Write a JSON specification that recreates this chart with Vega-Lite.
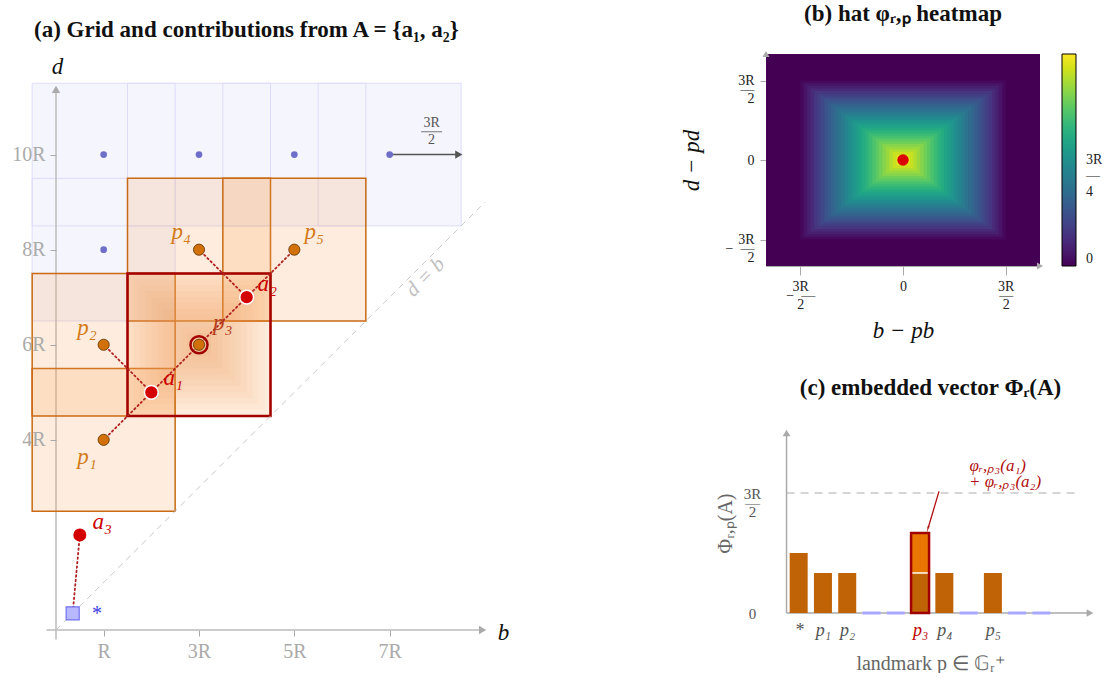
{
  "$schema": "https://vega.github.io/schema/vega-lite/v6.json",
  "padding": {"left": 11, "top": 2, "right": 0, "bottom": 0},
  "background": "white",
  "config": {
    "view": {"stroke": null},
    "font": "Liberation Serif",
    "axis": {"grid": false, "labelFont": "Liberation Serif", "titleFont": "Liberation Serif", "titleFontWeight": "normal", "domainColor": "#aaa", "tickColor": "#aaa"},
    "title": {"font": "Liberation Serif", "fontWeight": "bold", "fontSize": 23, "color": "#111"},
    "legend": {"labelFont": "Liberation Serif"}
  },
  "spacing": 171,
  "hconcat": [
    {
      "width": 429,
      "height": 576,
      "title": {"text": "(a)  Grid and contributions from A = {a₁, a₂}", "anchor": "start", "frame": "group", "dx": -22, "offset": 12},
      "layer": [
        {
          "data": {"values": [
            {"b": -0.5, "b2": 8.5, "d": 8.5, "d2": 11.5},
            {"b": -0.5, "b2": 2.5, "d": 6.5, "d2": 8.5}
          ]},
          "mark": {"type": "rect", "fill": "#f5f5fd", "strokeWidth": 0},
          "encoding": {
            "x": {"field": "b", "type": "quantitative", "scale": {"domain": [0, 9], "nice": false, "zero": false},
              "axis": {"values": [1, 3, 5, 7], "labelExpr": "datum.value == 1 ? 'R' : datum.value + 'R'", "labelFontSize": 20, "labelColor": "#aaa", "tickSize": 6, "labelPadding": 5, "domain": false,
                "title": "b", "titleFontSize": 23, "titleFontStyle": "italic", "titleColor": "#111", "titleAngle": 0, "titleX": 447, "titleY": 2, "titleAlign": "center", "titleBaseline": "middle"}},
            "x2": {"field": "b2"},
            "y": {"field": "d", "type": "quantitative", "scale": {"domain": [0, 12.116], "nice": false, "zero": false},
              "axis": {"values": [4, 6, 8, 10], "labelExpr": "datum.value + 'R'", "labelFontSize": 20, "labelColor": "#aaa", "tickSize": 6, "labelPadding": 5, "domain": false, "zindex": 1,
                "title": "d", "titleFontSize": 23, "titleFontStyle": "italic", "titleColor": "#111", "titleAngle": 0, "titleX": 1, "titleY": 12, "titleAlign": "center", "titleBaseline": "middle"}},
            "y2": {"field": "d2"}
          }
        },
        {
          "data": {"values": [
            {"b": -0.5, "b2": 2.5, "d": 8.5, "d2": 11.5},
            {"b": 1.5, "b2": 4.5, "d": 8.5, "d2": 11.5},
            {"b": 3.5, "b2": 6.5, "d": 8.5, "d2": 11.5},
            {"b": 5.5, "b2": 8.5, "d": 8.5, "d2": 11.5},
            {"b": -0.5, "b2": 2.5, "d": 6.5, "d2": 9.5}
          ]},
          "mark": {"type": "rect", "fillOpacity": 0, "stroke": "#dcdcfa", "strokeWidth": 1},
          "encoding": {"x": {"field": "b", "type": "quantitative"}, "x2": {"field": "b2"}, "y": {"field": "d", "type": "quantitative"}, "y2": {"field": "d2"}}
        },
        {
          "data": {"values": [{"b": -0.2, "d": 0, "b2": 8.9, "d2": 0}, {"b": 0, "d": -0.2, "b2": 0, "d2": 11.3}]},
          "mark": {"type": "rule", "stroke": "#bbb", "strokeWidth": 1.5},
          "encoding": {"x": {"field": "b", "type": "quantitative"}, "x2": {"field": "b2"}, "y": {"field": "d", "type": "quantitative"}, "y2": {"field": "d2"}}
        },
        {
          "data": {"values": [
            {"b": -0.5, "b2": 2.5, "d": 2.5, "d2": 5.5},
            {"b": -0.5, "b2": 2.5, "d": 4.5, "d2": 7.5},
            {"b": 1.5, "b2": 4.5, "d": 6.5, "d2": 9.5},
            {"b": 3.5, "b2": 6.5, "d": 6.5, "d2": 9.5},
            {"b": 1.5, "b2": 4.5, "d": 4.5, "d2": 7.5}
          ]},
          "mark": {"type": "rect", "fill": "#f8a65a", "fillOpacity": 0.2, "stroke": "#c96a14", "strokeWidth": 1.5},
          "encoding": {"x": {"field": "b", "type": "quantitative"}, "x2": {"field": "b2"}, "y": {"field": "d", "type": "quantitative"}, "y2": {"field": "d2"}}
        },
        {
          "data": {"values": [
            {"b": 1.625, "b2": 4.375, "d": 4.625, "d2": 7.375},
            {"b": 1.75, "b2": 4.25, "d": 4.75, "d2": 7.25},
            {"b": 1.875, "b2": 4.125, "d": 4.875, "d2": 7.125},
            {"b": 2.0, "b2": 4.0, "d": 5.0, "d2": 7.0},
            {"b": 2.125, "b2": 3.875, "d": 5.125, "d2": 6.875},
            {"b": 2.25, "b2": 3.75, "d": 5.25, "d2": 6.75},
            {"b": 2.375, "b2": 3.625, "d": 5.375, "d2": 6.625},
            {"b": 2.5, "b2": 3.5, "d": 5.5, "d2": 6.5},
            {"b": 2.625, "b2": 3.375, "d": 5.625, "d2": 6.375},
            {"b": 2.75, "b2": 3.25, "d": 5.75, "d2": 6.25}
          ]},
          "mark": {"type": "rect", "fill": "#f0a050", "fillOpacity": 0.06, "strokeWidth": 0},
          "encoding": {"x": {"field": "b", "type": "quantitative"}, "x2": {"field": "b2"}, "y": {"field": "d", "type": "quantitative"}, "y2": {"field": "d2"}}
        },
        {
          "data": {"values": [{"b": 1.5, "b2": 4.5, "d": 4.5, "d2": 7.5}]},
          "mark": {"type": "rect", "fillOpacity": 0, "stroke": "#a30000", "strokeWidth": 2.5},
          "encoding": {"x": {"field": "b", "type": "quantitative"}, "x2": {"field": "b2"}, "y": {"field": "d", "type": "quantitative"}, "y2": {"field": "d2"}}
        },
        {
          "data": {"values": [{"b": 0, "d": 0, "b2": 9, "d2": 9}]},
          "mark": {"type": "rule", "stroke": "#c8c8c8", "strokeDash": [6, 5], "strokeWidth": 1},
          "encoding": {"x": {"field": "b", "type": "quantitative"}, "x2": {"field": "b2"}, "y": {"field": "d", "type": "quantitative"}, "y2": {"field": "d2"}}
        },
        {
          "data": {"values": [
            {"b": 2, "d": 5, "b2": 1, "d2": 4},
            {"b": 2, "d": 5, "b2": 1, "d2": 6},
            {"b": 2, "d": 5, "b2": 3, "d2": 6},
            {"b": 4, "d": 7, "b2": 3, "d2": 6},
            {"b": 4, "d": 7, "b2": 3, "d2": 8},
            {"b": 4, "d": 7, "b2": 5, "d2": 8},
            {"b": 0.5, "d": 2, "b2": 0.35, "d2": 0.35}
          ]},
          "mark": {"type": "rule", "stroke": "#b02020", "strokeDash": [1.5, 3], "strokeWidth": 1.8, "strokeCap": "round"},
          "encoding": {"x": {"field": "b", "type": "quantitative"}, "x2": {"field": "b2"}, "y": {"field": "d", "type": "quantitative"}, "y2": {"field": "d2"}}
        },
        {
          "data": {"values": [{"b": 7, "d": 10, "b2": 8.4, "d2": 10}]},
          "mark": {"type": "rule", "stroke": "#555", "strokeWidth": 1.5},
          "encoding": {"x": {"field": "b", "type": "quantitative"}, "x2": {"field": "b2"}, "y": {"field": "d", "type": "quantitative"}, "y2": {"field": "d2"}}
        },
        {
          "data": {"values": [{"b": 8.45, "d": 10}]},
          "mark": {"type": "point", "shape": "triangle-right", "filled": true, "color": "#555", "size": 70, "opacity": 1},
          "encoding": {"x": {"field": "b", "type": "quantitative"}, "y": {"field": "d", "type": "quantitative"}}
        },
        {
          "data": {"values": [{"b": 7.66, "d": 10.48, "b2": 8.1, "d2": 10.48}]},
          "mark": {"type": "rule", "stroke": "#555", "strokeWidth": 0.8},
          "encoding": {"x": {"field": "b", "type": "quantitative"}, "x2": {"field": "b2"}, "y": {"field": "d", "type": "quantitative"}, "y2": {"field": "d2"}}
        },
        {
          "data": {"values": [{"b": 7.88, "d": 10.67, "t": "3R"}, {"b": 7.88, "d": 10.3, "t": "2"}]},
          "mark": {"type": "text", "fontSize": 14, "color": "#555", "baseline": "middle"},
          "encoding": {"x": {"field": "b", "type": "quantitative"}, "y": {"field": "d", "type": "quantitative"}, "text": {"field": "t"}}
        },
        {
          "data": {"values": [{"b": 8.95, "d": 0}]},
          "mark": {"type": "point", "shape": "triangle-right", "filled": true, "color": "#aaa", "size": 70, "opacity": 1},
          "encoding": {"x": {"field": "b", "type": "quantitative"}, "y": {"field": "d", "type": "quantitative"}}
        },
        {
          "data": {"values": [{"b": 0, "d": 11.37}]},
          "mark": {"type": "point", "shape": "triangle-up", "filled": true, "color": "#aaa", "size": 70, "opacity": 1},
          "encoding": {"x": {"field": "b", "type": "quantitative"}, "y": {"field": "d", "type": "quantitative"}}
        },
        {
          "data": {"values": [{"b": 1, "d": 10}, {"b": 3, "d": 10}, {"b": 5, "d": 10}, {"b": 7, "d": 10}, {"b": 1, "d": 8}]},
          "mark": {"type": "point", "filled": true, "color": "#6f6fc9", "size": 45, "opacity": 1},
          "encoding": {"x": {"field": "b", "type": "quantitative"}, "y": {"field": "d", "type": "quantitative"}}
        },
        {
          "data": {"values": [{"b": 1, "d": 4}, {"b": 1, "d": 6}, {"b": 3, "d": 6}, {"b": 3, "d": 8}, {"b": 5, "d": 8}]},
          "mark": {"type": "point", "filled": true, "fill": "#d2700a", "stroke": "#5a3000", "strokeWidth": 0.8, "size": 125, "opacity": 1},
          "encoding": {"x": {"field": "b", "type": "quantitative"}, "y": {"field": "d", "type": "quantitative"}}
        },
        {
          "data": {"values": [{"b": 3, "d": 6}]},
          "mark": {"type": "point", "filled": false, "stroke": "#a30000", "strokeWidth": 2.5, "size": 290, "opacity": 1},
          "encoding": {"x": {"field": "b", "type": "quantitative"}, "y": {"field": "d", "type": "quantitative"}}
        },
        {
          "data": {"values": [{"b": 2, "d": 5}, {"b": 4, "d": 7}]},
          "mark": {"type": "point", "filled": true, "fill": "#d40000", "stroke": "white", "strokeWidth": 1.5, "size": 190, "opacity": 1},
          "encoding": {"x": {"field": "b", "type": "quantitative"}, "y": {"field": "d", "type": "quantitative"}}
        },
        {
          "data": {"values": [{"b": 0.5, "d": 2}]},
          "mark": {"type": "point", "filled": true, "fill": "#d40000", "size": 170, "opacity": 1},
          "encoding": {"x": {"field": "b", "type": "quantitative"}, "y": {"field": "d", "type": "quantitative"}}
        },
        {
          "data": {"values": [{"b": 0.35, "d": 0.35}]},
          "mark": {"type": "point", "shape": "square", "filled": true, "fill": "#b8b8ff", "stroke": "#7070ee", "strokeWidth": 1.2, "size": 170, "opacity": 1},
          "encoding": {"x": {"field": "b", "type": "quantitative"}, "y": {"field": "d", "type": "quantitative"}}
        },
        {
          "data": {"values": [
            {"b": 0.65, "d": 3.64, "t": "p₁"},
            {"b": 0.65, "d": 6.36, "t": "p₂"},
            {"b": 2.63, "d": 8.38, "t": "p₄"},
            {"b": 5.42, "d": 8.38, "t": "p₅"}
          ]},
          "mark": {"type": "text", "fontSize": 23, "fontStyle": "italic", "color": "#d47a1a", "baseline": "middle"},
          "encoding": {"x": {"field": "b", "type": "quantitative"}, "y": {"field": "d", "type": "quantitative"}, "text": {"field": "t"}}
        },
        {
          "data": {"values": [{"b": 3.5, "d": 6.45, "t": "p₃"}]},
          "mark": {"type": "text", "fontSize": 23, "fontStyle": "italic", "color": "#b5401a", "baseline": "middle"},
          "encoding": {"x": {"field": "b", "type": "quantitative"}, "y": {"field": "d", "type": "quantitative"}, "text": {"field": "t"}}
        },
        {
          "data": {"values": [
            {"b": 2.46, "d": 5.3, "t": "a₁"},
            {"b": 4.43, "d": 7.28, "t": "a₂"},
            {"b": 0.97, "d": 2.27, "t": "a₃"}
          ]},
          "mark": {"type": "text", "fontSize": 23, "fontStyle": "italic", "color": "#cc0000", "baseline": "middle"},
          "encoding": {"x": {"field": "b", "type": "quantitative"}, "y": {"field": "d", "type": "quantitative"}, "text": {"field": "t"}}
        },
        {
          "data": {"values": [{"b": 0.86, "d": 0.33, "t": "*"}]},
          "mark": {"type": "text", "fontSize": 20, "color": "#4040e0", "baseline": "middle"},
          "encoding": {"x": {"field": "b", "type": "quantitative"}, "y": {"field": "d", "type": "quantitative"}, "text": {"field": "t"}}
        },
        {
          "data": {"values": [{"b": 7.75, "d": 7.42, "t": "d = b"}]},
          "mark": {"type": "text", "fontSize": 21, "fontStyle": "italic", "color": "#c0c0c0", "angle": -45, "baseline": "middle"},
          "encoding": {"x": {"field": "b", "type": "quantitative"}, "y": {"field": "d", "type": "quantitative"}, "text": {"field": "t"}}
        }
      ]
    },
    {
      "spacing": 34,
      "resolve": {"scale": {"color": "independent"}, "legend": {"color": "independent"}},
      "vconcat": [
        {
          "width": 274,
          "height": 212,
          "title": {"text": "(b)  hat φᵣ,ₚ heatmap", "anchor": "middle", "offset": 25},
          "layer": [
            {
              "data": {"values": [
                {"lo": -2, "hi": 2, "v": 0},
                {"lo": -1.5, "hi": 1.5, "v": 0.025},
                {"lo": -1.45, "hi": 1.45, "v": 0.075},
                {"lo": -1.4, "hi": 1.4, "v": 0.125},
                {"lo": -1.35, "hi": 1.35, "v": 0.175},
                {"lo": -1.3, "hi": 1.3, "v": 0.225},
                {"lo": -1.25, "hi": 1.25, "v": 0.275},
                {"lo": -1.2, "hi": 1.2, "v": 0.325},
                {"lo": -1.15, "hi": 1.15, "v": 0.375},
                {"lo": -1.1, "hi": 1.1, "v": 0.425},
                {"lo": -1.05, "hi": 1.05, "v": 0.475},
                {"lo": -1.0, "hi": 1.0, "v": 0.525},
                {"lo": -0.95, "hi": 0.95, "v": 0.575},
                {"lo": -0.9, "hi": 0.9, "v": 0.625},
                {"lo": -0.85, "hi": 0.85, "v": 0.675},
                {"lo": -0.8, "hi": 0.8, "v": 0.725},
                {"lo": -0.75, "hi": 0.75, "v": 0.775},
                {"lo": -0.7, "hi": 0.7, "v": 0.825},
                {"lo": -0.65, "hi": 0.65, "v": 0.875},
                {"lo": -0.6, "hi": 0.6, "v": 0.925},
                {"lo": -0.55, "hi": 0.55, "v": 0.975},
                {"lo": -0.5, "hi": 0.5, "v": 1.025},
                {"lo": -0.45, "hi": 0.45, "v": 1.075},
                {"lo": -0.4, "hi": 0.4, "v": 1.125},
                {"lo": -0.35, "hi": 0.35, "v": 1.175},
                {"lo": -0.3, "hi": 0.3, "v": 1.225},
                {"lo": -0.25, "hi": 0.25, "v": 1.275},
                {"lo": -0.2, "hi": 0.2, "v": 1.325},
                {"lo": -0.15, "hi": 0.15, "v": 1.375},
                {"lo": -0.1, "hi": 0.1, "v": 1.425},
                {"lo": -0.05, "hi": 0.05, "v": 1.475}
              ]},
              "mark": {"type": "rect", "strokeWidth": 0},
              "encoding": {
                "x": {"field": "lo", "type": "quantitative", "scale": {"domain": [-2, 2], "nice": false, "zero": false},
                  "axis": {"values": [-1.5, 0, 1.5], "labelExpr": "datum.value == 0 ? '0' : datum.value > 0 ? ['3R','—','2'] : ['\u00a0\u00a0\u00a0\u00a03R','−\u00a0\u00a0—','\u00a0\u00a0\u00a0\u00a02']", "labelLineHeight": 9, "labelFontSize": 14, "labelColor": "#222", "tickSize": 9, "labelPadding": 4,
                    "title": "b − pb", "titleFontSize": 23, "titleFontStyle": "italic", "titleColor": "#111", "titlePadding": 8}},
                "x2": {"field": "hi"},
                "y": {"field": "lo", "type": "quantitative", "scale": {"domain": [-2, 2], "nice": false, "zero": false},
                  "axis": {"values": [-1.5, 0, 1.5], "labelExpr": "datum.value == 0 ? '0' : datum.value > 0 ? ['3R','—','2'] : ['\u00a0\u00a0\u00a0\u00a03R','−\u00a0\u00a0—','\u00a0\u00a0\u00a0\u00a02']", "labelLineHeight": 9, "labelFontSize": 14, "labelColor": "#222", "tickSize": 6, "labelPadding": 6,
                    "title": "d − pd", "titleFontSize": 23, "titleFontStyle": "italic", "titleColor": "#111", "titlePadding": 22}},
                "y2": {"field": "hi"},
                "color": {"field": "v", "type": "quantitative", "scale": {"scheme": "viridis", "domain": [0, 1.5]},
                  "legend": {"title": null, "direction": "vertical", "gradientLength": 212, "gradientThickness": 14, "offset": 22, "values": [0, 0.75], "labelExpr": "datum.value == 0 ? '0' : ['3R','—','4']", "labelLineHeight": 9, "labelFontSize": 14, "labelColor": "#222", "gradientStrokeColor": "#000", "gradientStrokeWidth": 1, "labelOffset": 10}}
              }
            },
            {
              "data": {"values": [{"x": 0, "y": 0}]},
              "mark": {"type": "point", "filled": true, "fill": "#dd0000", "size": 130, "opacity": 1},
              "encoding": {"x": {"field": "x", "type": "quantitative"}, "y": {"field": "y", "type": "quantitative"}}
            },
            {
              "data": {"values": [{"x": 2, "y": -2}]},
              "mark": {"type": "point", "shape": "triangle-right", "filled": true, "color": "#aaa", "size": 50, "opacity": 1},
              "encoding": {"x": {"field": "x", "type": "quantitative"}, "y": {"field": "y", "type": "quantitative"}}
            },
            {
              "data": {"values": [{"x": -2, "y": 2}]},
              "mark": {"type": "point", "shape": "triangle-up", "filled": true, "color": "#aaa", "size": 50, "opacity": 1},
              "encoding": {"x": {"field": "x", "type": "quantitative"}, "y": {"field": "y", "type": "quantitative"}}
            }
          ]
        },
        {
          "width": 329,
          "height": 180,
          "title": {"text": "(c)  embedded vector Φᵣ(A)", "anchor": "middle", "offset": 30},
          "layer": [
            {
              "data": {"values": [{"i": -0.5, "v": 1.5, "i2": 11.6, "v2": 1.5}]},
              "mark": {"type": "rule", "stroke": "#c8c8c8", "strokeDash": [8, 6], "strokeWidth": 1.5},
              "encoding": {
                "x": {"field": "i", "type": "quantitative", "scale": {"domain": [-1.14, 12], "nice": false, "zero": false},
                  "axis": {"values": [0, 1, 2, 5, 6, 8], "labelExpr": "['*','p₁','p₂','','','p₃','p₄','','p₅'][datum.value]", "labelFontSize": 18, "labelFontStyle": "italic", "labelColor": {"condition": {"test": "datum.value == 5", "value": "#c00000"}, "value": "#555"}, "ticks": false, "domain": false, "labelPadding": 8,
                    "title": "landmark p ∈ 𝔾ᵣ⁺", "titleFontSize": 20, "titleColor": "#666", "titlePadding": 14}},
                "x2": {"field": "i2"},
                "y": {"field": "v", "type": "quantitative", "scale": {"domain": [0, 2.25], "nice": false, "zero": false},
                  "axis": {"values": [0, 1.5], "labelExpr": "datum.value == 0 ? '0' : ['3R','—','2']", "labelLineHeight": 9, "labelFontSize": 15, "labelColor": "#555", "labelAlign": "center", "ticks": false, "domain": false, "offset": -16, "labelPadding": 30,
                    "title": "Φᵣ,ₚ(A)", "titleFontSize": 20, "titleColor": "#666", "titlePadding": 8}},
                "y2": {"field": "v2"}
              }
            },
            {
              "data": {"values": [{"i": -0.5, "v": 0, "i2": 12, "v2": 0}, {"i": -0.5, "v": 0, "i2": -0.5, "v2": 2.25}]},
              "mark": {"type": "rule", "stroke": "#aaa", "strokeWidth": 1.5},
              "encoding": {"x": {"field": "i", "type": "quantitative"}, "x2": {"field": "i2"}, "y": {"field": "v", "type": "quantitative"}, "y2": {"field": "v2"}}
            },
            {
              "data": {"values": [{"i": 12, "v": 0}]},
              "mark": {"type": "point", "shape": "triangle-right", "filled": true, "color": "#aaa", "size": 60, "opacity": 1},
              "encoding": {"x": {"field": "i", "type": "quantitative"}, "y": {"field": "v", "type": "quantitative"}}
            },
            {
              "data": {"values": [{"i": -0.5, "v": 2.25}]},
              "mark": {"type": "point", "shape": "triangle-up", "filled": true, "color": "#aaa", "size": 60, "opacity": 1},
              "encoding": {"x": {"field": "i", "type": "quantitative"}, "y": {"field": "v", "type": "quantitative"}}
            },
            {
              "data": {"values": [{"i": 0, "v": 0.75}, {"i": 1, "v": 0.5}, {"i": 2, "v": 0.5}, {"i": 5, "v": 0.5}, {"i": 6, "v": 0.5}, {"i": 8, "v": 0.5}]},
              "mark": {"type": "bar", "width": 18, "color": "#c06206"},
              "encoding": {"x": {"field": "i", "type": "quantitative"}, "y": {"field": "v", "type": "quantitative"}}
            },
            {
              "data": {"values": [{"i": 5, "lo": 0.5, "hi": 1.0}]},
              "mark": {"type": "bar", "width": 18, "color": "#e87600"},
              "encoding": {"x": {"field": "i", "type": "quantitative"}, "y": {"field": "lo", "type": "quantitative"}, "y2": {"field": "hi"}}
            },
            {
              "data": {"values": [{"i": 5, "v": 0.5}]},
              "mark": {"type": "point", "shape": "M-1,0H1", "filled": false, "stroke": "white", "strokeWidth": 1.5, "size": 324, "opacity": 1},
              "encoding": {"x": {"field": "i", "type": "quantitative"}, "y": {"field": "v", "type": "quantitative"}}
            },
            {
              "data": {"values": [{"i": 5, "v": 1.0}]},
              "mark": {"type": "bar", "width": 18, "fillOpacity": 0, "stroke": "#a00000", "strokeWidth": 2.5},
              "encoding": {"x": {"field": "i", "type": "quantitative"}, "y": {"field": "v", "type": "quantitative"}}
            },
            {
              "data": {"values": [{"i": 3, "v": 0}, {"i": 4, "v": 0}, {"i": 7, "v": 0}, {"i": 9, "v": 0}, {"i": 10, "v": 0}]},
              "mark": {"type": "point", "shape": "M-1,0H1", "filled": false, "stroke": "#a8a8ff", "strokeWidth": 3, "size": 324, "opacity": 1},
              "encoding": {"x": {"field": "i", "type": "quantitative"}, "y": {"field": "v", "type": "quantitative"}}
            },
            {
              "data": {"values": [{"i": 5.78, "v": 1.52, "i2": 5.33, "v2": 1.06}]},
              "mark": {"type": "rule", "stroke": "#b01010", "strokeWidth": 1.3},
              "encoding": {"x": {"field": "i", "type": "quantitative"}, "x2": {"field": "i2"}, "y": {"field": "v", "type": "quantitative"}, "y2": {"field": "v2"}}
            },
            {
              "data": {"values": [{"i": 5.33, "v": 1.06}]},
              "mark": {"type": "point", "shape": "wedge", "filled": true, "color": "#b01010", "size": 60, "angle": 197, "opacity": 1},
              "encoding": {"x": {"field": "i", "type": "quantitative"}, "y": {"field": "v", "type": "quantitative"}}
            },
            {
              "data": {"values": [{"i": 8.2, "v": 1.84, "t": "φᵣ,ₚ₃(a₁)"}, {"i": 8.5, "v": 1.64, "t": "+ φᵣ,ₚ₃(a₂)"}]},
              "mark": {"type": "text", "fontSize": 17, "fontStyle": "italic", "color": "#b01010", "baseline": "middle"},
              "encoding": {"x": {"field": "i", "type": "quantitative"}, "y": {"field": "v", "type": "quantitative"}, "text": {"field": "t"}}
            }
          ]
        }
      ]
    }
  ]
}
